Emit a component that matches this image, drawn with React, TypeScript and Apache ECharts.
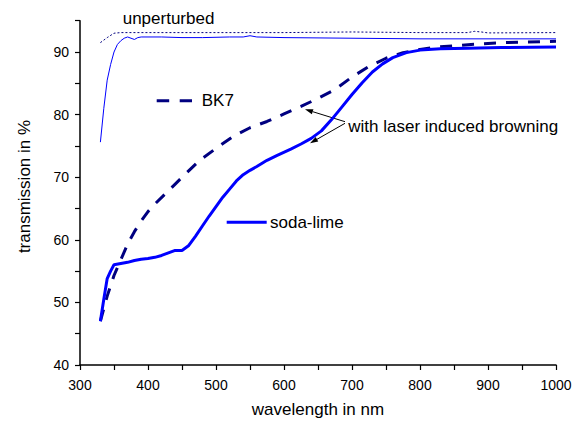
import React, { useEffect, useRef } from 'react';
import * as echarts from 'echarts';

// ---- data ----
const sodaLimeBrownedNm = [330, 335, 340, 345, 350, 360, 370, 380, 390, 400, 410, 420, 430, 440, 450, 460, 470, 480, 490, 500, 510, 520, 530, 540, 550, 560, 575, 590, 610, 625, 640, 655, 670, 685, 700, 715, 730, 745, 760, 780, 800, 830, 870, 920, 1000];
const sodaLimeBrownedT = [47.0, 50.5, 53.8, 55.0, 56.0, 56.2, 56.4, 56.7, 56.9, 57.0, 57.2, 57.5, 57.9, 58.3, 58.3, 59.1, 60.6, 62.2, 63.8, 65.3, 66.8, 68.1, 69.4, 70.4, 71.1, 71.7, 72.7, 73.5, 74.5, 75.3, 76.2, 77.4, 79.2, 81.2, 83.2, 85.1, 86.8, 88.1, 89.1, 89.9, 90.3, 90.5, 90.6, 90.7, 90.8];

const bk7BrownedNm = [330, 340, 350, 360, 370, 380, 390, 400, 410, 425, 440, 455, 475, 500, 525, 550, 575, 600, 625, 650, 675, 700, 725, 750, 775, 800, 825, 850, 875, 925, 1000];
const bk7BrownedT = [47.0, 51.0, 54.3, 56.8, 59.3, 61.3, 63.0, 64.5, 65.7, 67.3, 68.9, 70.5, 72.6, 74.6, 76.5, 77.9, 78.9, 80.1, 81.3, 82.6, 84.0, 86.0, 87.7, 89.0, 89.9, 90.4, 90.8, 91.0, 91.2, 91.5, 91.7];

const sodaLimeCleanNm = [330, 335, 340, 345, 350, 355, 360, 365, 370, 375, 380, 385, 390, 400, 420, 450, 480, 520, 540, 550, 560, 600, 700, 800, 900, 1000];
const sodaLimeCleanT = [75.6, 81.0, 85.5, 88.0, 90.0, 91.2, 91.8, 92.2, 92.4, 92.2, 92.0, 92.3, 92.4, 92.4, 92.4, 92.3, 92.3, 92.4, 92.4, 92.6, 92.4, 92.3, 92.2, 92.1, 92.1, 92.1];

const bk7CleanNm = [330, 340, 350, 360, 400, 500, 600, 700, 800, 870, 880, 890, 900, 1000];
const bk7CleanT = [91.5, 92.3, 93.0, 93.1, 93.1, 93.1, 93.1, 93.2, 93.1, 93.1, 93.3, 93.2, 93.05, 93.1];

const xTicks = [300, 400, 500, 600, 700, 800, 900, 1000];
const yTicks = [40, 50, 60, 70, 80, 90];

const FONT = '"Liberation Sans", Arial, Helvetica, sans-serif';
const BLUE = '#0000ff';
const NAVY = '#000080';

function pairs(xs: number[], ys: number[]) {
  return xs.map((x, i) => [x, ys[i]]);
}

function arrow(x1: number, y1: number, x2: number, y2: number) {
  const dx = x2 - x1;
  const dy = y2 - y1;
  const len = Math.sqrt(dx * dx + dy * dy);
  const ux = dx / len;
  const uy = dy / len;
  const hl = 8;
  const hw = 2.6;
  const bx = x2 - ux * hl;
  const by = y2 - uy * hl;
  const nx = -uy;
  const ny = ux;
  return [
    {
      type: 'line',
      shape: { x1, y1, x2: bx, y2: by },
      style: { stroke: '#000', lineWidth: 1 },
    },
    {
      type: 'polygon',
      shape: {
        points: [
          [x2, y2],
          [bx + nx * hw, by + ny * hw],
          [bx - nx * hw, by - ny * hw],
        ],
      },
      style: { fill: '#000' },
    },
  ];
}

export default function App() {
  const ref = useRef<HTMLDivElement>(null);

  useEffect(() => {
    if (!ref.current) return;
    const chart = echarts.init(ref.current, undefined, { renderer: 'svg' });
    const textStyle = (text: string, x: number, y: number, align = 'left') => ({
      type: 'text',
      x,
      y,
      style: {
        text,
        font: `17px ${FONT}`,
        fill: '#000',
        textAlign: align,
        textVerticalAlign: 'middle',
      },
    });
    chart.setOption({
      animation: false,
      backgroundColor: '#fff',
      grid: { left: 80, right: 22, top: 20.7, bottom: 53.7 },
      xAxis: {
        type: 'value',
        min: 300,
        max: 1000,
        interval: 50,
        name: 'wavelength in nm',
        nameLocation: 'middle',
        nameGap: 36,
        nameTextStyle: { fontFamily: FONT, fontSize: 17, color: '#000' },
        axisLine: { show: true, lineStyle: { color: '#000', width: 1.5 } },
        axisTick: { show: true, length: 5, lineStyle: { color: '#000', width: 1.2 } },
        axisLabel: {
          fontFamily: FONT,
          fontSize: 14,
          color: '#000',
          margin: 13,
          formatter: (v: number) => (xTicks.includes(v) ? String(v) : ''),
        },
        splitLine: { show: false },
      },
      yAxis: {
        type: 'value',
        min: 40,
        max: 95,
        interval: 5,
        axisLine: { show: true, lineStyle: { color: '#000', width: 1.5 } },
        axisTick: { show: true, length: 5, lineStyle: { color: '#000', width: 1.2 } },
        axisLabel: {
          fontFamily: FONT,
          fontSize: 14,
          color: '#000',
          margin: 11,
          formatter: (v: number) => (yTicks.includes(v) ? String(v) : ''),
        },
        splitLine: { show: false },
      },
      series: [
        {
          name: 'BK7 unperturbed',
          type: 'line',
          data: pairs(bk7CleanNm, bk7CleanT),
          showSymbol: false,
          lineStyle: { color: NAVY, width: 1, type: [2, 2] },
          z: 2,
        },
        {
          name: 'soda-lime unperturbed',
          type: 'line',
          data: pairs(sodaLimeCleanNm, sodaLimeCleanT),
          showSymbol: false,
          lineStyle: { color: BLUE, width: 1 },
          z: 2,
        },
        {
          name: 'BK7',
          type: 'line',
          data: pairs(bk7BrownedNm, bk7BrownedT),
          showSymbol: false,
          lineStyle: { color: NAVY, width: 3, type: [12, 10] },
          z: 3,
        },
        {
          name: 'soda-lime',
          type: 'line',
          data: pairs(sodaLimeBrownedNm, sodaLimeBrownedT),
          showSymbol: false,
          lineStyle: { color: BLUE, width: 3 },
          z: 4,
        },
      ],
      graphic: [
        {
          type: 'text',
          x: 24,
          y: 186.5,
          rotation: Math.PI / 2,
          style: {
            text: 'transmission in %',
            font: `17px ${FONT}`,
            fill: '#000',
            textAlign: 'center',
            textVerticalAlign: 'middle',
          },
        },
        textStyle('unperturbed', 122.7, 18.5),
        {
          type: 'line',
          shape: { x1: 156.7, y1: 100.7, x2: 192, y2: 100.7 },
          style: { stroke: NAVY, lineWidth: 3, lineDash: [12.5, 10.5] },
        },
        textStyle('BK7', 201.7, 100.7),
        {
          type: 'line',
          shape: { x1: 226.7, y1: 222.3, x2: 266.7, y2: 222.3 },
          style: { stroke: BLUE, lineWidth: 3 },
        },
        textStyle('soda-lime', 270, 222.3),
        textStyle('with laser induced browning', 348.3, 126),
        ...arrow(345, 121.7, 305, 109.3),
        ...arrow(345, 123.3, 310, 143.3),
      ],
    });
    return () => chart.dispose();
  }, []);

  return (
    <div
      ref={ref}
      style={{ position: 'fixed', left: 0, top: 0, width: 578, height: 423, background: '#fff' }}
    />
  );
}
